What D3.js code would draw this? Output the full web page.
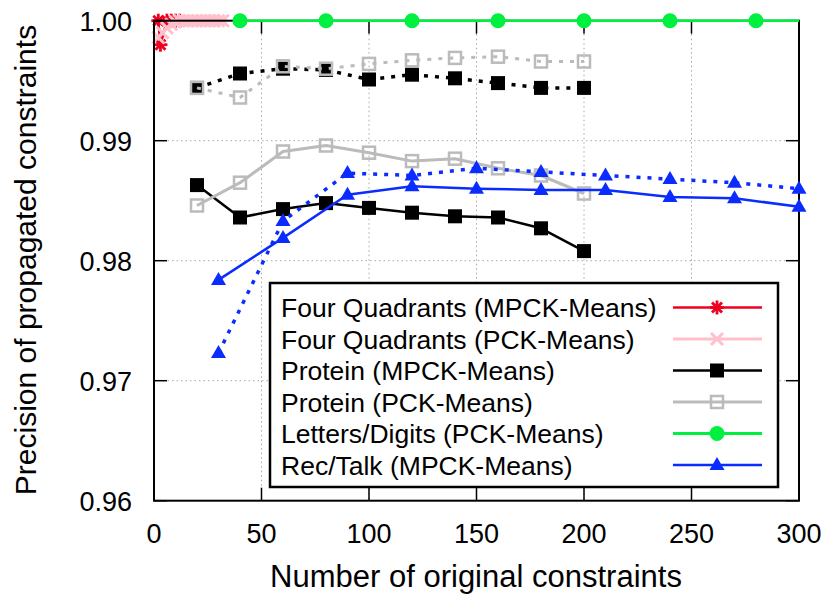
<!DOCTYPE html>
<html>
<head>
<meta charset="utf-8">
<script src="https://cdn.jsdelivr.net/npm/d3@7"></script>
<style>
  html, body { margin: 0; padding: 0; background: #fff; }
  svg { display: block; font-family: "Liberation Sans", Arial, Helvetica, sans-serif; }
</style>
</head>
<body>
<svg id="chart" width="826" height="595"></svg>
<script>
// ---- data ----
const xTicks = [0, 50, 100, 150, 200, 250, 300];
const yTicks = [0.96, 0.97, 0.98, 0.99, 1.00];

const xFqMpck = [2, 3, 6, 8, 10, 12];
const fqMpck  = [1.0, 0.9980, 1.0, 1.0, 1.0, 1.0];

const xFqPck = [2, 4, 6, 8, 10, 12, 14, 16, 18, 20, 22, 24, 26, 28, 30, 32];
const fqPck  = [0.9986, 0.9990, 0.9994, 0.9997, 0.9999, 1, 1, 1, 1, 1, 1, 1, 1, 1, 1, 1];

const xProtein = [20, 40, 60, 80, 100, 120, 140, 160, 180, 200];
const proteinMpck      = [0.9863, 0.9836, 0.9843, 0.9848, 0.9844, 0.9840, 0.9837, 0.9836, 0.9827, 0.9808];
const proteinPck       = [0.9846, 0.9865, 0.9891, 0.9896, 0.9890, 0.9883, 0.9885, 0.9877, 0.9871, 0.9856];
const proteinMpckOther = [0.9944, 0.9956, 0.9960, 0.9959, 0.9951, 0.9955, 0.9952, 0.9948, 0.9944, 0.9944];
const proteinPckOther  = [0.9944, 0.9936, 0.9962, 0.9960, 0.9964, 0.9967, 0.9969, 0.9970, 0.9966, 0.9966];

const xLetters = [40, 60, 80, 100, 120, 140, 160, 180, 200, 220, 240, 260, 280, 300];
const lettersPck = [1, 1, 1, 1, 1, 1, 1, 1, 1, 1, 1, 1, 1, 1];

const xRecTalk = [30, 60, 90, 120, 150, 180, 210, 240, 270, 300];
const recTalkMpck  = [0.9784, 0.9819, 0.9855, 0.9862, 0.9860, 0.9859, 0.9859, 0.9853, 0.9852, 0.9845];
const recTalkOther = [0.9723, 0.9833, 0.9873, 0.9871, 0.9877, 0.9874, 0.9871, 0.9868, 0.9865, 0.9860];

const legendLabels = [
  "Four Quadrants (MPCK-Means)",
  "Four Quadrants (PCK-Means)",
  "Protein (MPCK-Means)",
  "Protein (PCK-Means)",
  "Letters/Digits (PCK-Means)",
  "Rec/Talk (MPCK-Means)"
];

// ---- styles ----
const RED = "#f00020", PINK = "#ffc0cb", BLACK = "#000", GRAY = "#bbbbbb",
      GREEN = "#00f040", BLUE = "#0a2cff";

const svg = d3.select("#chart");
svg.append("rect").attr("width", 826).attr("height", 595).attr("fill", "#fff");

const x = d3.scaleLinear().domain([0, 300]).range([154, 799]);
const y = d3.scaleLinear().domain([0.96, 1.0]).range([500.7, 20.7]);

// grid
const grid = svg.append("g").attr("stroke", "#a8a8a8").attr("stroke-width", 1)
  .attr("stroke-dasharray", "1.5,3");
xTicks.slice(1, -1).forEach(t => grid.append("line")
  .attr("x1", x(t)).attr("x2", x(t)).attr("y1", y(1.0)).attr("y2", y(0.96)));
yTicks.slice(1, -1).forEach(t => grid.append("line")
  .attr("x1", x(0)).attr("x2", x(300)).attr("y1", y(t)).attr("y2", y(t)));

// markers
function marker(g, type, color, cx, cy) {
  const s = 7;
  if (type === "star") {
    const p = g.append("g").attr("stroke", color).attr("stroke-width", 2.8);
    p.append("line").attr("x1", cx - s).attr("x2", cx + s).attr("y1", cy).attr("y2", cy);
    p.append("line").attr("x1", cx).attr("x2", cx).attr("y1", cy - s).attr("y2", cy + s);
    p.append("line").attr("x1", cx - 5).attr("x2", cx + 5).attr("y1", cy - 5).attr("y2", cy + 5);
    p.append("line").attr("x1", cx - 5).attr("x2", cx + 5).attr("y1", cy + 5).attr("y2", cy - 5);
  } else if (type === "cross") {
    const p = g.append("g").attr("stroke", color).attr("stroke-width", 3);
    p.append("line").attr("x1", cx - 6).attr("x2", cx + 6).attr("y1", cy - 6).attr("y2", cy + 6);
    p.append("line").attr("x1", cx - 6).attr("x2", cx + 6).attr("y1", cy + 6).attr("y2", cy - 6);
  } else if (type === "square") {
    g.append("rect").attr("x", cx - 7).attr("y", cy - 7).attr("width", 14).attr("height", 14)
      .attr("fill", color);
  } else if (type === "osquare") {
    g.append("rect").attr("x", cx - 6).attr("y", cy - 6).attr("width", 12).attr("height", 12)
      .attr("fill", "none").attr("stroke", color).attr("stroke-width", 2.5);
  } else if (type === "circle") {
    g.append("circle").attr("cx", cx).attr("cy", cy).attr("r", 7.5).attr("fill", color);
  } else if (type === "triangle") {
    g.append("path").attr("d", `M${cx},${cy - 8}L${cx + 7.5},${cy + 5}L${cx - 7.5},${cy + 5}Z`)
      .attr("fill", color);
  }
}

const line = d3.line().x(d => x(d[0])).y(d => y(d[1]));

function series(parent, xs, ys, opt) {
  const pts = xs.map((v, i) => [v, ys[i]]);
  const g = parent.append("g");
  g.append("path").datum(pts).attr("d", line).attr("fill", "none")
    .attr("stroke", opt.color).attr("stroke-width", opt.width || 2.5)
    .attr("stroke-dasharray", opt.dash || null)
    .attr("stroke-linejoin", "round");
  const every = opt.every || 1;
  pts.forEach((p, i) => {
    if (i % every === 0) marker(g, opt.marker, opt.color, x(p[0]), y(p[1]));
  });
}

const plot = svg.append("g");
series(plot, xFqMpck, fqMpck, { color: RED, marker: "star" });
series(plot, xFqPck, fqPck, { color: PINK, marker: "cross", width: 3 });
series(plot, xProtein, proteinMpck, { color: BLACK, marker: "square" });
series(plot, xProtein, proteinMpckOther, { color: BLACK, marker: "square", dash: "4,7", width: 3.5 });
series(plot, xProtein, proteinPck, { color: GRAY, marker: "osquare", width: 3 });
series(plot, xProtein, proteinPckOther, { color: GRAY, marker: "osquare", dash: "4,7", width: 3 });

// border with inward ticks on all sides
const axes = svg.append("g").attr("stroke", "#000");
axes.append("rect").attr("x", x(0)).attr("y", y(1.0))
  .attr("width", x(300) - x(0)).attr("height", y(0.96) - y(1.0))
  .attr("fill", "none").attr("stroke-width", 2);
const TL = 13;
xTicks.forEach(t => {
  axes.append("line").attr("x1", x(t)).attr("x2", x(t)).attr("y1", y(0.96)).attr("y2", y(0.96) - TL).attr("stroke-width", 1.5);
  axes.append("line").attr("x1", x(t)).attr("x2", x(t)).attr("y1", y(1.0)).attr("y2", y(1.0) + TL).attr("stroke-width", 1.5);
});
yTicks.forEach(t => {
  axes.append("line").attr("x1", x(0)).attr("x2", x(0) + TL).attr("y1", y(t)).attr("y2", y(t)).attr("stroke-width", 1.5);
  axes.append("line").attr("x1", x(300)).attr("x2", x(300) - TL).attr("y1", y(t)).attr("y2", y(t)).attr("stroke-width", 1.5);
});

// the 1.00 line sits on the top border, drawn over it
const front = svg.append("g");
series(front, xLetters, lettersPck, { color: GREEN, marker: "circle", width: 2.5, every: 2 });
series(front, xRecTalk, recTalkMpck, { color: BLUE, marker: "triangle" });
series(front, xRecTalk, recTalkOther, { color: BLUE, marker: "triangle", dash: "4,7", width: 3.5 });

// tick labels
const fmt = d3.format(".2f");
svg.append("g").selectAll("text").data(xTicks).join("text")
  .attr("x", d => x(d)).attr("y", 543).attr("text-anchor", "middle")
  .attr("font-size", 27).text(d => d);
svg.append("g").selectAll("text").data(yTicks).join("text")
  .attr("x", 132).attr("y", d => y(d) + 10).attr("text-anchor", "end")
  .attr("font-size", 27).text(d => fmt(d));

// axis titles
svg.append("text").attr("x", 476).attr("y", 587).attr("text-anchor", "middle")
  .attr("font-size", 31).text("Number of original constraints");
svg.append("text").attr("transform", "translate(36,260) rotate(-90)")
  .attr("text-anchor", "middle").attr("font-size", 30)
  .text("Precision of propagated constraints");

// legend
const legendStyles = [
  { color: RED, marker: "star", width: 2.5 },
  { color: PINK, marker: "cross", width: 3 },
  { color: BLACK, marker: "square", width: 2.5 },
  { color: GRAY, marker: "osquare", width: 3 },
  { color: GREEN, marker: "circle", width: 3 },
  { color: BLUE, marker: "triangle", width: 2.5 }
];
const lg = svg.append("g");
lg.append("rect").attr("x", 270).attr("y", 283).attr("width", 508).attr("height", 204)
  .attr("fill", "#fff").attr("stroke", "#000").attr("stroke-width", 2.5);
legendLabels.forEach((lab, i) => {
  const base = 317 + i * 31.5;
  const cy = base - 9.5;
  lg.append("text").attr("x", 281).attr("y", base).attr("font-size", 26.5).text(lab);
  const st = legendStyles[i];
  lg.append("line").attr("x1", 673).attr("x2", 762).attr("y1", cy).attr("y2", cy)
    .attr("stroke", st.color).attr("stroke-width", st.width);
  marker(lg, st.marker, st.color, 717, cy);
});
</script>
</body>
</html>
